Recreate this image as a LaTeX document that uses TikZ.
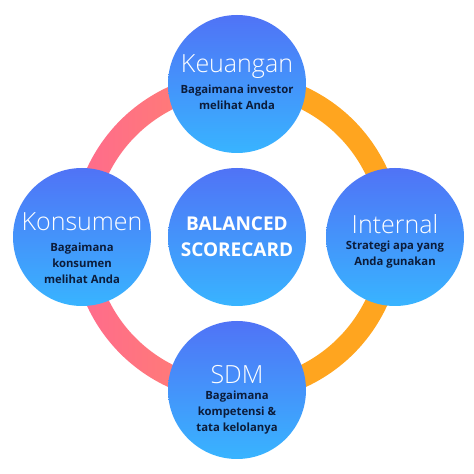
\documentclass[tikz,border=0pt]{standalone}
\usepackage{fontspec}
\setmainfont{Open Sans}
\newfontfamily\lightfont{Open Sans Light}
\usetikzlibrary{backgrounds}

\definecolor{bluetop}{RGB}{80,115,246}
\definecolor{bluebot}{RGB}{56,180,255}
\definecolor{navy}{RGB}{12,28,58}
\definecolor{ringpink}{RGB}{255,106,142}
\definecolor{ringcoral}{RGB}{255,122,120}
\definecolor{ringorange}{RGB}{255,165,31}
\pgfdeclarehorizontalshading{ringgrad}{100bp}{color(0bp)=(ringpink); color(25bp)=(ringpink); color(41bp)=(ringcoral); color(59bp)=(ringorange); color(100bp)=(ringorange)}

\begin{document}
\begin{tikzpicture}[x=1pt,y=1pt,
  disc/.style={circle,minimum size=138pt,inner sep=0pt,top color=bluetop,bottom color=bluebot},
  headtext/.style={text=white,font=\lightfont\fontsize{25}{28}\selectfont},
  subtext/.style={text=navy,align=center,font=\fontsize{11.3}{16}\selectfont\bfseries}]
  \useasboundingbox (0,0) rectangle (474,474);
  \node[disc] (bsc) at (237,237) {};
  \node[disc] (keu) at (237,390) {};
  \node[disc] (kon) at (82,237) {};
  \node[disc] (int) at (395,237) {};
  \node[disc] (sdm) at (237,84) {};
  \node[text=white,align=center,font=\fontsize{19}{26}\selectfont\bfseries] (bsct) at (bsc) {BALANCED\\SCORECARD};
  \node[headtext,yshift=17pt] (keut) at (keu) {Keuangan};
  \node[subtext,yshift=-13pt] (keus) at (keu) {Bagaimana investor\\melihat Anda};
  \node[headtext,yshift=15pt] (kont) at (kon) {Konsumen};
  \node[subtext,yshift=-26pt] (kons) at (kon) {Bagaimana\\konsumen\\melihat Anda};
  \node[headtext,yshift=13pt] (intt) at (int) {Internal};
  \node[subtext,yshift=-18pt] (ints) at (int) {Strategi apa yang\\Anda gunakan};
  \node[headtext,yshift=15pt] (sdmt) at (sdm) {SDM};
  \node[subtext,yshift=-23pt] (sdms) at (sdm) {Bagaimana\\kompetensi \&\\tata kelolanya};
  \begin{scope}[on background layer]
    \fill[white] (0,0) rectangle (474,474);
    \shade[shading=ringgrad,even odd rule] (bsc.center) circle[radius=165] circle[radius=143];
  \end{scope}
\end{tikzpicture}
\end{document}
